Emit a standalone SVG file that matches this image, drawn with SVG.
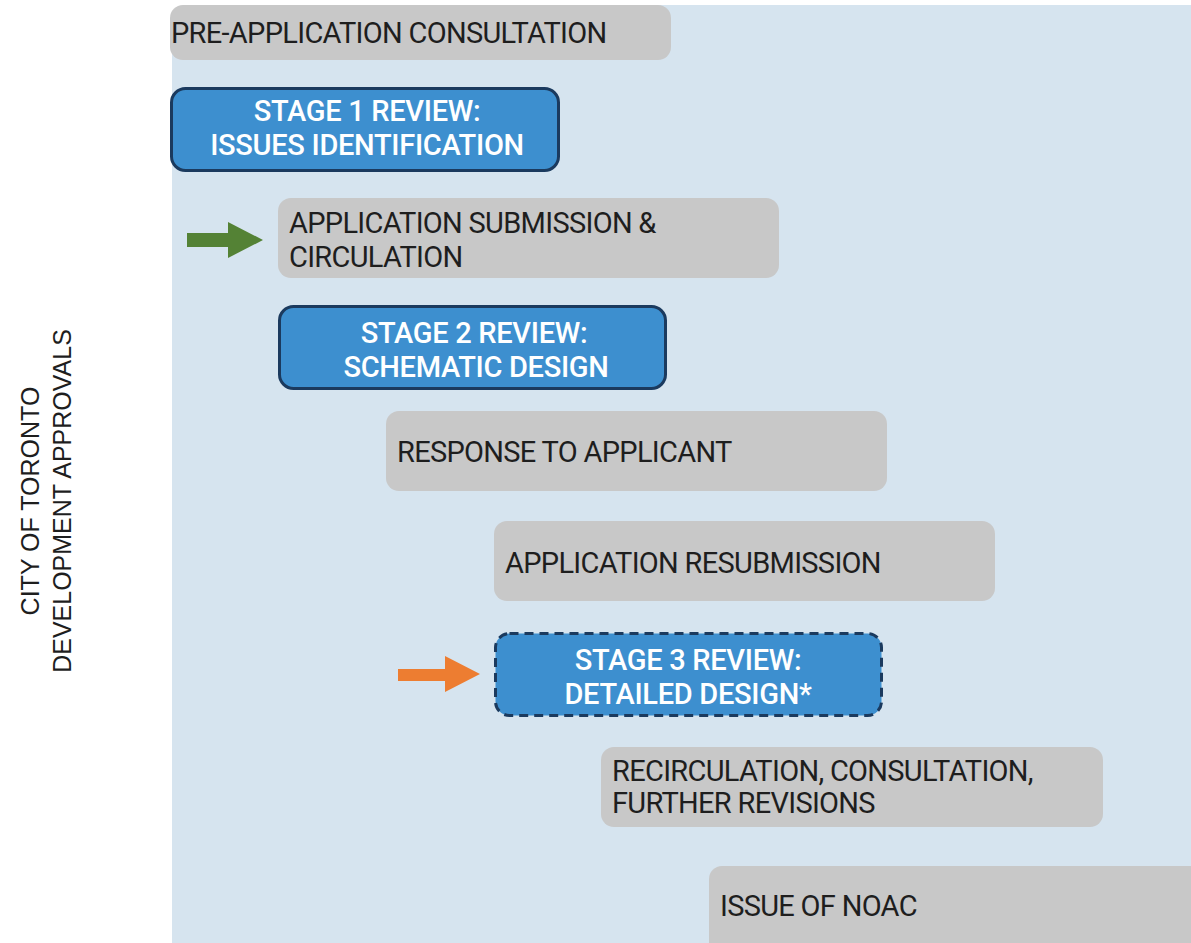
<svg xmlns="http://www.w3.org/2000/svg" width="1191" height="943" viewBox="0 0 1191 943">
<style>
.g{fill:#c8c8c8}
.b{fill:#3d8fcf;stroke:#1b3a5e;stroke-width:3}
.gt{font-family:Roboto,"Liberation Sans",sans-serif;font-size:29px;fill:#1e1e1e;letter-spacing:-0.7px}
.bt{font-family:Roboto,"Liberation Sans",sans-serif;font-size:29px;font-weight:500;fill:#ffffff;text-anchor:middle;letter-spacing:-0.3px}
.side{font-family:"Liberation Sans",Arial,sans-serif;font-size:25px;fill:#1e1e1e;text-anchor:middle}
</style>
<rect x="0" y="0" width="1191" height="943" fill="#ffffff"/>
<rect id="panel" x="172" y="5" width="1040" height="960" rx="20" fill="#d6e4ef"/>
<g id="sidelabel" transform="translate(46,501) rotate(-90)">
<text class="side" x="0" y="-7">CITY OF TORONTO</text>
<text class="side" x="0" y="25">DEVELOPMENT APPROVALS</text>
</g>
<g id="n1"><rect class="g" x="170" y="5" width="501" height="55" rx="13"/><text class="gt" x="171" y="43">PRE-APPLICATION CONSULTATION</text></g>
<g id="n2"><rect class="b" x="171.5" y="88.5" width="387" height="82" rx="14"/><text class="bt" x="367" y="121">STAGE 1 REVIEW:</text><text class="bt" x="367" y="155">ISSUES IDENTIFICATION</text></g>
<g id="n3"><rect class="g" x="278" y="198" width="501" height="80" rx="13"/><text class="gt" x="289" y="233">APPLICATION SUBMISSION &amp;</text><text class="gt" x="289" y="267">CIRCULATION</text></g>
<g id="n4"><rect class="b" x="279.5" y="306.5" width="386" height="82" rx="14"/><text class="bt" x="474" y="343">STAGE 2 REVIEW:</text><text class="bt" x="476" y="377">SCHEMATIC DESIGN</text></g>
<g id="n5"><rect class="g" x="386" y="411" width="501" height="80" rx="13"/><text class="gt" x="397" y="462">RESPONSE TO APPLICANT</text></g>
<g id="n6"><rect class="g" x="494" y="521" width="501" height="80" rx="13"/><text class="gt" x="505" y="573">APPLICATION RESUBMISSION</text></g>
<g id="n7"><rect class="b" x="495.5" y="633.5" width="386" height="82" rx="14" stroke-dasharray="9,6"/><text class="bt" x="688" y="670">STAGE 3 REVIEW:</text><text class="bt" x="688" y="704">DETAILED DESIGN*</text></g>
<g id="n8"><rect class="g" x="601" y="747" width="502" height="80" rx="13"/><text class="gt" x="612" y="781">RECIRCULATION, CONSULTATION,</text><text class="gt" x="612" y="813">FURTHER REVISIONS</text></g>
<g id="n9"><rect class="g" x="709" y="866" width="520" height="100" rx="13"/><text class="gt" x="720" y="916">ISSUE OF NOAC</text></g>
<g id="connectors">
<polygon points="187,233 228,233 228,222 263,240 228,258 228,247 187,247" fill="#548235"/>
<polygon points="398,669 445,669 445,656 480,674 445,692 445,681 398,681" fill="#ed7d31"/>
</g>
</svg>
